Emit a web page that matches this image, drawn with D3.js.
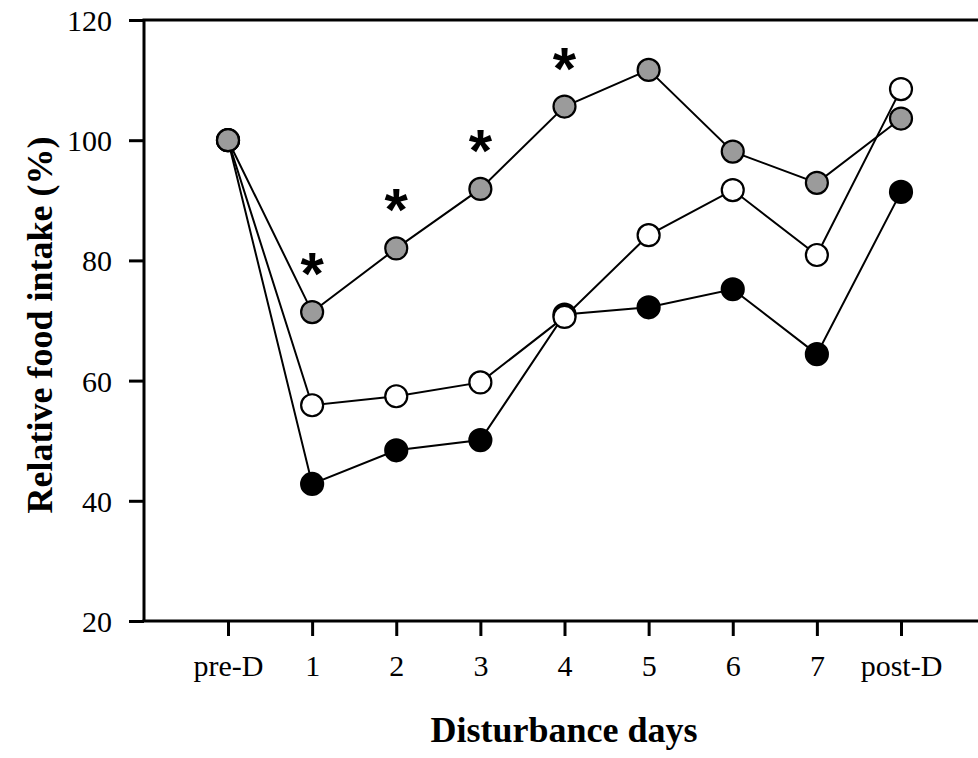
<!DOCTYPE html>
<html>
<head>
<meta charset="utf-8">
<script src="https://cdn.jsdelivr.net/npm/d3@7"></script>
<style>
    body { margin: 0; background: #fff; }
    svg { display: block; }
    text { font-family: "Liberation Serif", "Times New Roman", serif; }
</style>
</head>
<body>
<svg id="chart" width="978" height="758"></svg>
<script>
const categories = ["pre-D", "1", "2", "3", "4", "5", "6", "7", "post-D"];
const grayValues = [100, 71.4, 82.0, 91.9, 105.6, 111.7, 98.1, 92.9, 103.6];
const whiteValues = [100, 55.9, 57.4, 59.7, 70.6, 84.2, 91.7, 80.9, 108.5];
const blackValues = [100, 42.8, 48.4, 50.1, 71.0, 72.2, 75.2, 64.4, 91.4];
const starDays = ["1", "2", "3", "4"];
const yTicks = [20, 40, 60, 80, 100, 120];

const svg = d3.select("#chart");

const plotLeft = 144;
const plotRight = 990;
const plotTop = 20;
const plotBottom = 621;

const x = d3.scalePoint()
    .domain(categories)
    .range([228, 901]);

const y = d3.scaleLinear()
    .domain([20, 120])
    .range([plotBottom, plotTop]);

// frame top line
svg.append("line")
    .attr("x1", plotLeft - 1.5)
    .attr("x2", plotRight)
    .attr("y1", plotTop)
    .attr("y2", plotTop)
    .attr("stroke", "#000")
    .attr("stroke-width", 3);

const yAxis = svg.append("g")
    .attr("transform", "translate(" + plotLeft + ",0)")
    .call(d3.axisLeft(y).tickValues(yTicks).tickSize(15).tickPadding(17));

const xAxis = svg.append("g")
    .attr("transform", "translate(0," + plotBottom + ")")
    .call(d3.axisBottom(x).tickSize(15).tickPadding(19));

xAxis.select(".domain").attr("d", "M" + (plotLeft - 1.5) + ",0H" + plotRight);
yAxis.select(".domain").attr("d", "M0," + plotTop + "V" + plotBottom);

[xAxis, yAxis].forEach(function(axis) {
    axis.select(".domain").attr("stroke", "#000").attr("stroke-width", 3);
    axis.selectAll(".tick line").attr("stroke", "#000").attr("stroke-width", 3);
    axis.selectAll(".tick text")
        .attr("fill", "#000")
        .style("font-size", "30px")
        .style("font-family", "'Liberation Serif', serif");
});
yAxis.selectAll(".tick text").attr("dy", "0.35em");

const series = [
    { name: "black", values: blackValues, fill: "#000" },
    { name: "white", values: whiteValues, fill: "#fff" },
    { name: "gray", values: grayValues, fill: "#9b9b9b" }
];

const line = d3.line()
    .x(function(d, i) { return x(categories[i]); })
    .y(function(d) { return y(d); });

series.forEach(function(s) {
    svg.append("path")
        .datum(s.values)
        .attr("fill", "none")
        .attr("stroke", "#000")
        .attr("stroke-width", 2)
        .attr("d", line);
});

series.forEach(function(s) {
    svg.append("g")
        .selectAll("circle")
        .data(s.values)
        .join("circle")
        .attr("cx", function(d, i) { return x(categories[i]); })
        .attr("cy", function(d) { return y(d); })
        .attr("r", 11)
        .attr("fill", s.fill)
        .attr("stroke", "#000")
        .attr("stroke-width", 2.2);
});

// significance stars above the gray series
svg.append("g")
    .selectAll("text")
    .data(starDays)
    .join("text")
    .attr("x", function(d) { return x(d); })
    .attr("y", function(d) { return y(grayValues[categories.indexOf(d)]) - 18; })
    .attr("text-anchor", "middle")
    .style("font-family", "'Liberation Sans', Arial, sans-serif")
    .style("font-weight", "bold")
    .style("font-size", "60px")
    .text("*");

svg.append("text")
    .attr("x", 564)
    .attr("y", 742)
    .attr("text-anchor", "middle")
    .style("font-size", "36px")
    .style("font-weight", "bold")
    .text("Disturbance days");

svg.append("text")
    .attr("transform", "translate(52,325) rotate(-90)")
    .attr("text-anchor", "middle")
    .style("font-size", "36px")
    .style("font-weight", "bold")
    .text("Relative food intake (%)");
</script>
</body>
</html>
